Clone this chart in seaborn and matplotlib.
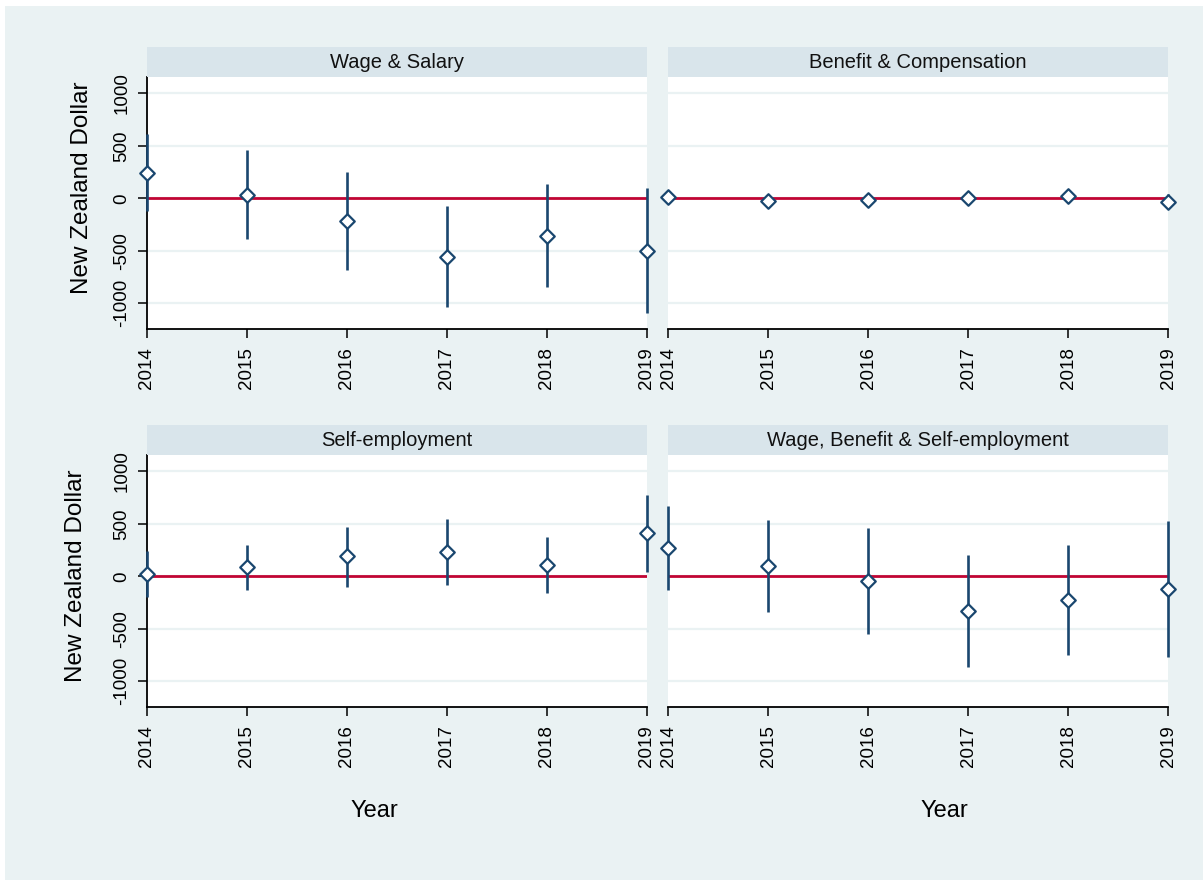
import numpy as np
import pandas as pd
import seaborn as sns
import matplotlib.pyplot as plt
from matplotlib.patches import Rectangle

# values
years = [2014, 2015, 2016, 2017, 2018, 2019]
panels = ["Wage & Salary", "Benefit & Compensation",
          "Self-employment", "Wage, Benefit & Self-employment"]

wage_est = [245, 35, -212, -562, -355, -498]
wage_lo = [-122, -390, -679, -1038, -845, -1092]
wage_hi = [610, 460, 254, -76, 136, 95]

benefit_est = [10, -25, -20, 0, 20, -35]
benefit_lo = [-20, -55, -50, -30, -10, -90]
benefit_hi = [40, 5, 10, 30, 50, 40]

self_est = [17, 89, 190, 232, 111, 412]
self_lo = [-200, -128, -98, -79, -155, 44]
self_hi = [238, 300, 473, 543, 371, 778]

all_est = [273, 98, -48, -330, -222, -124]
all_lo = [-130, -343, -549, -863, -746, -768]
all_hi = [673, 540, 457, 206, 298, 524]

frames = []
for name, est, lo, hi in zip(panels,
                             [wage_est, benefit_est, self_est, all_est],
                             [wage_lo, benefit_lo, self_lo, all_lo],
                             [wage_hi, benefit_hi, self_hi, all_hi]):
    frames.append(pd.DataFrame({"panel": name, "year": years,
                                "est": est, "lo": lo, "hi": hi}))
df = pd.concat(frames, ignore_index=True)

sns.set_theme(style="white")
plt.rcParams['font.family'] = ['Liberation Sans', 'DejaVu Sans']

bg = "#EAF2F3"
strip = "#D9E5EB"
navy = "#1A476F"
red = "#C10534"

W, H = 1203, 880
fig = plt.figure(figsize=(W / 100, H / 100), dpi=100, facecolor="white")
fig.patches.append(Rectangle((5 / W, 0), 1 - 5 / W, (H - 6) / H,
                             transform=fig.transFigure, facecolor=bg,
                             edgecolor="none", zorder=-10))

# pixel boxes (left, top) of each plot region
boxes = [(147, 77), (668, 77), (147, 455), (668, 455)]
pw, ph = 500, 252

for i, (name, (px, py)) in enumerate(zip(panels, boxes)):
    ax = fig.add_axes([px / W, (H - py - ph) / H, pw / W, ph / H])
    ax.set_facecolor("white")
    sub = df[df["panel"] == name]

    ax.axhline(0, color=red, lw=2, zorder=2)
    ax.vlines(sub["year"], sub["lo"], sub["hi"], color=navy, lw=1.9,
              zorder=3, clip_on=False)
    sns.scatterplot(data=sub, x="year", y="est", marker="D", s=55,
                    color="white", edgecolor=navy, linewidth=1.6,
                    zorder=4, clip_on=False, ax=ax, legend=False)

    ax.set_xlim(2014, 2019)
    ax.set_ylim(-1245, 1155)
    ax.set_xticks(years)
    ax.set_xticklabels([str(y) for y in years])
    ax.set_yticks([-1000, -500, 0, 500, 1000])
    ax.set_yticklabels(["-1000", "-500", "0", "500", "1000"])
    ax.grid(axis="y", color=bg, lw=1.6, zorder=0)
    ax.set_axisbelow(True)
    ax.set_xlabel("")
    ax.set_ylabel("")

    for s in ["top", "right"]:
        ax.spines[s].set_visible(False)
    ax.spines["bottom"].set_color("black")
    ax.spines["bottom"].set_linewidth(1.3)
    ax.tick_params(axis="x", labelrotation=90, length=6.5, width=1.1,
                   pad=6.5, labelsize=13.5, colors="black", bottom=True)
    if i % 2 == 0:
        ax.spines["left"].set_color("black")
        ax.spines["left"].set_linewidth(1.3)
        ax.tick_params(axis="y", labelrotation=90, length=6.5, width=1.1,
                       pad=5.5, labelsize=13.5, colors="black", left=True)
        for lab in ax.get_yticklabels():
            lab.set_va("center")
    else:
        ax.spines["left"].set_visible(False)
        ax.tick_params(axis="y", left=False, labelleft=False)

    # panel strip
    sax = fig.add_axes([px / W, (H - py) / H, pw / W, 30 / H])
    sax.set_facecolor(strip)
    sax.set_xticks([])
    sax.set_yticks([])
    for s in sax.spines.values():
        s.set_visible(False)
    sax.text(0.5, 0.5, name, ha="center", va="center", fontsize=14.5,
             color="#111111", transform=sax.transAxes)

# axis titles
for xc, yc in [(82, 188), (76, 576)]:
    fig.text(xc / W, 1 - yc / H, "New Zealand Dollar", rotation=90,
             ha="center", va="center", fontsize=17.5, color="black")
for xc in [374, 944]:
    fig.text(xc / W, 1 - 811 / H, "Year", ha="center", va="center",
             fontsize=17, color="black")

fig.savefig("out.png", dpi=100, facecolor="white")
